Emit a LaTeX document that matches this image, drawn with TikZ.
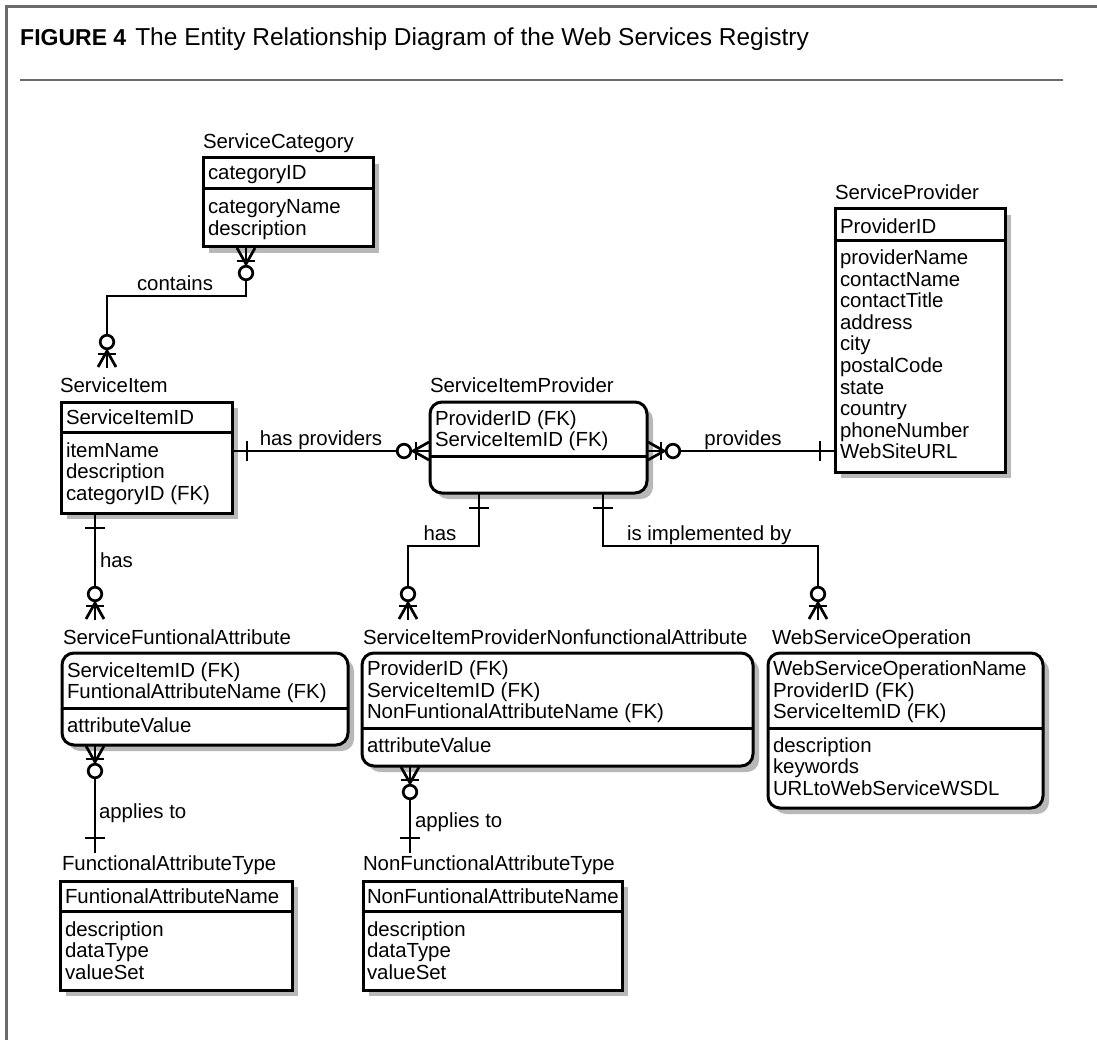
\documentclass[tikz,border=0pt]{standalone}
\usepackage{fontspec}
\setmainfont{Liberation Sans}
\usetikzlibrary{calc}
\definecolor{shadowgray}{gray}{0.72}
\definecolor{framegray}{gray}{0.42}
\newcommand{\fsz}{\fontsize{20.4}{21.5}\selectfont}
\newcommand{\entlines}[4]{%
  \foreach \t [count=\i from 0] in {#4} \node[lbl] (#1\i) at (#2, #3+21.5*\i) {\t};}
% #1 style (ent or rent), #2 name, #3 x, #4 y, #5 width, #6 height
\newcommand{\entbox}[6]{%
  \fill[shadowgray, #1shade] ($(#3,#4)+(6,6)$) rectangle ++(#5,#6);
  \node[#1, minimum width=#5pt, minimum height=#6pt] (#2) at (#3,#4) {};}
\newcommand{\zmany}[2]{%
  \begin{scope}[shift={(#1)}, rotate=#2]
    \draw[sym] (1,9) -- (17,0) -- (1,-9);
    \draw[sym] (14,-9) -- (14,9);
    \draw[sym, fill=white] (26,0) circle (6.8pt);
  \end{scope}}
\newcommand{\onebar}[2]{%
  \begin{scope}[shift={(#1)}, rotate=#2]
    \draw[sym] (15,-10) -- (15,10);
  \end{scope}}
\begin{document}
\begin{tikzpicture}[x=1pt,y=-1pt,
  ent/.style={draw, line width=3pt, fill=white, inner sep=0pt, outer sep=0pt, anchor=north west},
  rent/.style={ent, rounded corners=12pt},
  entshade/.style={},
  rentshade/.style={rounded corners=12pt},
  divline/.style={line width=3pt},
  lbl/.style={font=\fsz, anchor=base west, inner sep=0pt, outer sep=0pt},
  rlbl/.style={font=\fsz, anchor=base, inner sep=0pt, outer sep=0pt},
  conn/.style={line width=2.7pt},
  sym/.style={line width=2.7pt}]
\useasboundingbox (0,0) rectangle (1097,1040);
% frame and title
\draw[framegray, line width=3pt] (6,1040) -- (6,7) -- (1097,7);
\draw[framegray, line width=1.6pt] (20,80) -- (1063,80);
\node[anchor=base west, inner sep=0pt] (title) at (20,46)
  {\fontsize{23}{28}\selectfont\textbf{FIGURE 4}\hspace{9pt}\fontsize{24.5}{28}\selectfont The Entity Relationship Diagram of the Web Services Registry};

% ServiceCategory
\node[lbl] (sc-l) at (203,149) {ServiceCategory};
\entbox{ent}{sc}{203}{158}{170}{89}
\draw[divline] (sc.west |- 0,189) -- (sc.east |- 0,189);
\entlines{sc-k}{208}{180}{categoryID}
\entlines{sc-a}{208}{214}{categoryName,description}

% ServiceItem
\node[lbl] (si-l) at (60,392) {ServiceItem};
\entbox{ent}{si}{61}{402}{171}{111}
\draw[divline] (si.west |- 0,432) -- (si.east |- 0,432);
\entlines{si-k}{66}{424}{ServiceItemID}
\entlines{si-a}{66}{457}{itemName,description,categoryID (FK)}

% ServiceItemProvider
\node[lbl] (sip-l) at (430,392) {ServiceItemProvider};
\entbox{rent}{sip}{430}{402}{217}{91}
\draw[divline] (sip.west |- 0,456) -- (sip.east |- 0,456);
\entlines{sip-k}{435}{425}{ProviderID (FK),ServiceItemID (FK)}

% ServiceProvider
\node[lbl] (sp-l) at (835,200) {ServiceProvider};
\entbox{ent}{sp}{835}{209}{170}{263}
\draw[divline] (sp.west |- 0,241) -- (sp.east |- 0,241);
\entlines{sp-k}{840}{234}{ProviderID}
\entlines{sp-a}{840}{265}{providerName,contactName,contactTitle,address,city,postalCode,state,country,phoneNumber,WebSiteURL}

% ServiceFuntionalAttribute
\node[lbl] (sfa-l) at (63,644) {ServiceFuntionalAttribute};
\entbox{rent}{sfa}{62}{653}{286}{92}
\draw[divline] (sfa.west |- 0,708) -- (sfa.east |- 0,708);
\entlines{sfa-k}{67}{677}{ServiceItemID (FK),FuntionalAttributeName (FK)}
\entlines{sfa-a}{67}{732}{attributeValue}

% ServiceItemProviderNonfunctionalAttribute
\node[lbl] (sipna-l) at (363,644) {ServiceItemProviderNonfunctionalAttribute};
\entbox{rent}{sipna}{362}{653}{391}{113}
\draw[divline] (sipna.west |- 0,728) -- (sipna.east |- 0,728);
\entlines{sipna-k}{367}{675.5}{ProviderID (FK),ServiceItemID (FK),NonFuntionalAttributeName (FK)}
\entlines{sipna-a}{367}{752}{attributeValue}

% WebServiceOperation
\node[lbl] (wso-l) at (772,644) {WebServiceOperation};
\entbox{rent}{wso}{768}{653}{275}{155}
\draw[divline] (wso.west |- 0,728) -- (wso.east |- 0,728);
\entlines{wso-k}{773}{675.5}{WebServiceOperationName,ProviderID (FK),ServiceItemID (FK)}
\entlines{wso-a}{773}{752}{description,keywords,URLtoWebServiceWSDL}

% FunctionalAttributeType
\node[lbl] (fat-l) at (62,870) {FunctionalAttributeType};
\entbox{ent}{fat}{60}{881}{232}{109}
\draw[divline] (fat.west |- 0,911) -- (fat.east |- 0,911);
\entlines{fat-k}{65}{903}{FuntionalAttributeName}
\entlines{fat-a}{65}{936}{description,dataType,valueSet}

% NonFunctionalAttributeType
\node[lbl] (nfat-l) at (363,870) {NonFunctionalAttributeType};
\entbox{ent}{nfat}{363}{881}{259}{109}
\draw[divline] (nfat.west |- 0,911) -- (nfat.east |- 0,911);
\entlines{nfat-k}{367}{903}{NonFuntionalAttributeName}
\entlines{nfat-a}{367}{936}{description,dataType,valueSet}

% connector end points
\coordinate (c1a) at ($(sc.south west)+(43,0)$);
\coordinate (c1b) at ($(si.north west)+(46,-34)$);
\coordinate (c2a) at ($(si.north east)+(0,49)$);
\coordinate (c2b) at ($(sip.north west)+(0,49)$);
\coordinate (c3a) at ($(sip.north east)+(0,49)$);
\coordinate (c3b) at ($(sp.north west)+(0,242)$);
\coordinate (c4a) at ($(si.south west)+(34,0)$);
\coordinate (c4b) at ($(sfa.north west)+(33,-33)$);
\coordinate (c5a) at ($(sip.south west)+(49,0)$);
\coordinate (c5b) at ($(sipna.north west)+(46,-33)$);
\coordinate (c6a) at ($(sip.south west)+(173,0)$);
\coordinate (c6b) at ($(wso.north west)+(50,-33)$);
\coordinate (c7a) at ($(sfa.south west)+(33,0)$);
\coordinate (c7b) at ($(fat.north west)+(35,-28)$);
\coordinate (c8a) at ($(sipna.south west)+(48,0)$);
\coordinate (c8b) at ($(nfat.north west)+(47,-28)$);

% connectors
\draw[conn] (c1a) -- ++(0,49) -| (c1b);
\draw[conn] (c2a) -- (c2b);
\draw[conn] (c3a) -- (c3b);
\draw[conn] (c4a) -- (c4b);
\draw[conn] (c5a) -- ++(0,53) -| (c5b);
\draw[conn] (c6a) -- ++(0,53) -| (c6b);
\draw[conn] (c7a) -- (c7b);
\draw[conn] (c8a) -- (c8b);

% end symbols
\zmany{c1a}{-90}
\zmany{c1b}{90}
\onebar{c2a}{0}
\zmany{c2b}{180}
\zmany{c3a}{0}
\onebar{c3b}{180}
\onebar{c4a}{-90}
\zmany{c4b}{90}
\onebar{c5a}{-90}
\zmany{c5b}{90}
\onebar{c6a}{-90}
\zmany{c6b}{90}
\zmany{c7a}{-90}
\onebar{c7b}{90}
\zmany{c8a}{-90}
\onebar{c8b}{90}

% relationship labels
\node[rlbl] (r1) at (175,291) {contains};
\node[rlbl] (r2) at (321,445) {has providers};
\node[rlbl] (r3) at (743,445) {provides};
\node[lbl] (r4) at (100,567) {has};
\node[rlbl] (r5) at (440,540) {has};
\node[lbl] (r6) at (627,540) {is implemented by};
\node[lbl] (r7) at (99,818) {applies to};
\node[lbl] (r8) at (415,827) {applies to};
\end{tikzpicture}
\end{document}
